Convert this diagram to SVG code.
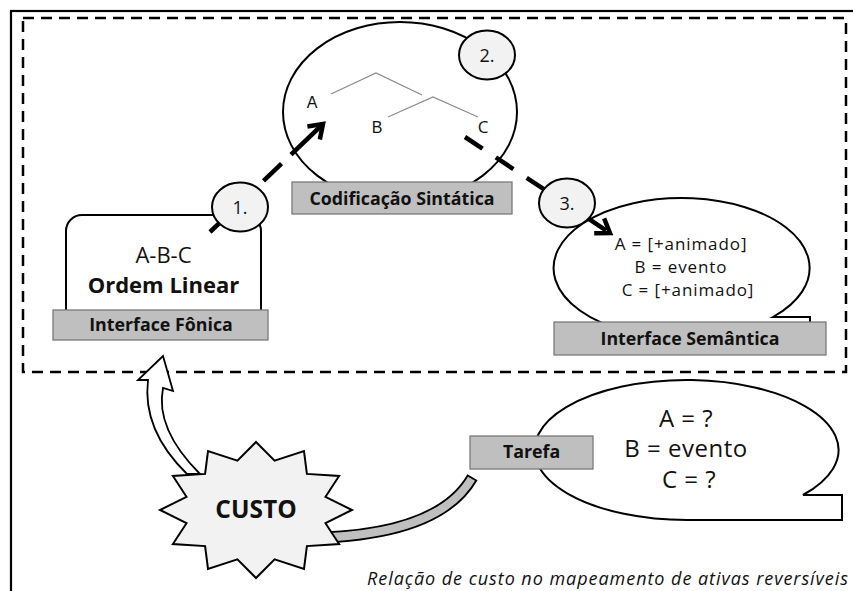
<svg xmlns="http://www.w3.org/2000/svg" width="853" height="591" viewBox="0 0 853 591">
  <defs>
    <style>
      text { font-family: "Open Sans", "Noto Sans", "Liberation Sans", sans-serif; fill: #111; }
      .label { font-size: 17.8px; font-weight: bold; text-anchor: middle; }
      .tag { fill: #bfbfbf; stroke: #7a7a7a; stroke-width: 1.3; }
      .bubble { fill: #fff; stroke: #000; stroke-width: 2; }
      .step { fill: #f2f2f2; stroke: #000; stroke-width: 2; }
      .step-num { font-size: 18px; text-anchor: middle; }
      .tree { fill: none; stroke: #8c8c8c; stroke-width: 1.3; }
      .leaf { font-family: "Liberation Sans", Arial, sans-serif; font-size: 16px; text-anchor: middle; }
      .flow { fill: none; stroke: #000; stroke-width: 4.5; marker-end: url(#chev); }
      .feat { font-size: 17px; text-anchor: middle; letter-spacing: 0.9px; }
      .quest { font-size: 24px; text-anchor: middle; letter-spacing: 0.5px; }
    </style>
    <marker id="chev" viewBox="-20 -12 24 24" markerWidth="24" markerHeight="24" refX="0" refY="0" orient="auto" markerUnits="userSpaceOnUse">
      <path d="M -13 -9 L 0 0 L -13 9" fill="none" stroke="#000" stroke-width="4.5"/>
    </marker>
  </defs>

  <rect width="853" height="591" fill="#fff"/>

  <!-- outer frame and dashed region -->
  <g id="frame">
    <rect x="11" y="11" width="900" height="700" fill="none" stroke="#000" stroke-width="2.2"/>
    <rect x="23" y="18" width="823" height="354" fill="none" stroke="#000" stroke-width="2.5" stroke-dasharray="11 7"/>
  </g>

  <!-- syntactic encoding -->
  <g id="node-sintatica">
    <ellipse cx="400" cy="112" rx="117" ry="90" class="bubble"/>
    <polyline class="tree" points="331,94 376,73 422,95"/>
    <polyline class="tree" points="388,117 433,97 478,117"/>
    <text class="leaf" x="312" y="108">A</text>
    <text class="leaf" x="377" y="133">B</text>
    <text x="483" y="133" font-size="17" text-anchor="middle">C</text>
    <rect class="tag" x="292" y="182" width="220" height="32"/>
    <text class="label" x="402" y="205">Codificação Sintática</text>
  </g>

  <!-- phonic interface -->
  <g id="node-fonica">
    <rect x="66" y="215" width="195" height="110" rx="16" ry="16" class="bubble"/>
    <text x="163.5" y="263" font-size="22" text-anchor="middle">A-B-C</text>
    <text x="163.5" y="293" font-size="22" font-weight="bold" text-anchor="middle">Ordem Linear</text>
    <rect class="tag" x="53" y="310" width="215" height="30"/>
    <text class="label" x="161" y="331">Interface Fônica</text>
  </g>

  <!-- semantic interface -->
  <g id="node-semantica">
    <path class="bubble" d="M 773 317 A 128 70 0 1 0 681 338 L 810 338 L 810 317 Z"/>
    <text class="feat" x="681" y="250">A = [+animado]</text>
    <text class="feat" x="681" y="273">B = evento</text>
    <text class="feat" x="688" y="296">C = [+animado]</text>
    <rect class="tag" x="554" y="322" width="272" height="33"/>
    <text class="label" x="690" y="345">Interface Semântica</text>
  </g>

  <!-- connectors -->
  <g id="connectors">
    <path class="flow" d="M 210 232 L 323 124" stroke-dasharray="23 13 25 13 25 13 80"/>
    <path class="flow" d="M 465 137 L 610 233" stroke-dasharray="21 16"/>
    <path d="M 187 474 Q 142 430 148 380 L 138 380 L 163 356 L 173 391 L 163 388 Q 155 429 200 474 Z" fill="#fff" stroke="#000" stroke-width="1.8"/>
    <path d="M 300 533 Q 434 533 467.7 475.5 L 476.3 480.5 Q 440 543 300 543 Z" fill="#bfbfbf" stroke="#000" stroke-width="1.8"/>
  </g>

  <!-- numbered steps -->
  <g id="step-1">
    <ellipse class="step" cx="240" cy="207" rx="28" ry="24.5"/>
    <text class="step-num" x="240" y="213.5">1.</text>
  </g>
  <g id="step-2">
    <ellipse class="step" cx="487" cy="55" rx="28" ry="24.5"/>
    <text class="step-num" x="487" y="61.5">2.</text>
  </g>
  <g id="step-3">
    <ellipse class="step" cx="567" cy="203" rx="28" ry="24.5"/>
    <text class="step-num" x="567" y="209.5">3.</text>
  </g>

  <!-- cost burst -->
  <g id="node-custo">
    <polygon points="256,442 274.6,460.7 304,451.1 306.9,473.9 339.1,476 325.5,496.8 352,510 325.5,523.2 339.1,544 306.9,546.1 304,568.9 274.6,559.3 256,578 237.4,559.3 208,568.9 205.1,546.1 172.9,544 186.5,523.2 160,510 186.5,496.8 172.9,476 205.1,473.9 208,451.1 237.4,460.7" fill="#f2f2f2" stroke="#000" stroke-width="2"/>
    <text x="256" y="518" font-size="24.5" font-weight="bold" text-anchor="middle">CUSTO</text>
  </g>

  <!-- task bubble -->
  <g id="node-tarefa">
    <path class="bubble" d="M 803 495 A 152 70 0 1 0 687 520 L 842 520 L 842 495 Z"/>
    <text class="quest" x="686" y="427">A = ?</text>
    <text class="quest" x="686" y="457">B = evento</text>
    <text class="quest" x="689" y="488">C = ?</text>
    <rect class="tag" x="470" y="436" width="123" height="33"/>
    <text class="label" x="531.5" y="458">Tarefa</text>
  </g>

  <text x="367" y="585" font-size="18" font-style="italic" textLength="481" lengthAdjust="spacing">Relação de custo no mapeamento de ativas reversíveis</text>
</svg>
